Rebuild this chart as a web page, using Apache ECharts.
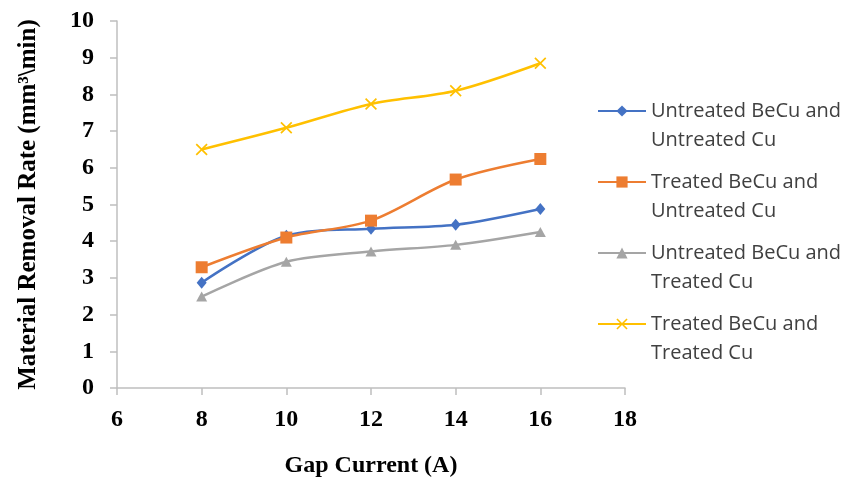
<!DOCTYPE html>
<html>
<head>
<meta charset="utf-8">
<script src="https://cdn.jsdelivr.net/npm/echarts@6/dist/echarts.min.js"></script>
<style>
  html, body { margin: 0; padding: 0; background: #fff; }
  #chart { width: 845px; height: 484px; }
</style>
</head>
<body>
<div id="chart"></div>
<script>
// Gap current (A) on the x axis
const gapCurrent = [8, 10, 12, 14, 16];

// Material removal rate (mm³/min) per electrode pairing
const untreatedBeCuUntreatedCu = [2.87, 4.15, 4.34, 4.45, 4.88];
const treatedBeCuUntreatedCu   = [3.29, 4.10, 4.56, 5.68, 6.24];
const untreatedBeCuTreatedCu   = [2.49, 3.44, 3.72, 3.90, 4.25];
const treatedBeCuTreatedCu     = [6.50, 7.09, 7.74, 8.10, 8.85];

const seriesNames = [
  'Untreated BeCu and\nUntreated Cu',
  'Treated BeCu and\nUntreated Cu',
  'Untreated BeCu and\nTreated Cu',
  'Treated BeCu and\nTreated Cu'
];

const xAxisTitle = 'Gap Current (A)';
const yAxisTitle = 'Material Removal Rate (mm³\\min)';

const colors = ['#4472C4', '#ED7D31', '#A5A5A5', '#FFC000'];
const crossSymbol = 'path://M0,1L1,0L5,4L9,0L10,1L6,5L10,9L9,10L5,6L1,10L0,9L4,5Z';
const symbols = ['diamond', 'rect', 'triangle', crossSymbol];
const symbolSizes = [[10, 12], 12, [11, 10], 12];
const valueSets = [untreatedBeCuUntreatedCu, treatedBeCuUntreatedCu, untreatedBeCuTreatedCu, treatedBeCuTreatedCu];

const serifBold = { fontFamily: 'Liberation Serif', fontWeight: 'bold', color: '#000' };
const axisGray = '#BFBFBF';

// centre line of each legend entry's first text row
const legendRows = [111, 182, 253, 324];
const legendLineHeight = 29;

const chart = echarts.init(document.getElementById('chart'), null, { renderer: 'canvas' });

chart.setOption({
  animation: false,
  backgroundColor: '#fff',
  grid: { left: 117, right: 220, top: 21, bottom: 96, containLabel: false },
  // one legend block per entry; a blank leading row keeps the marker level with the first text row
  legend: seriesNames.map((name, i) => ({
    data: [name],
    orient: 'vertical',
    left: 597,
    top: legendRows[i] - legendLineHeight * 1.5,
    padding: 0,
    itemWidth: 48,
    itemHeight: 14,
    itemGap: 0,
    formatter: n => '\n' + n,
    textStyle: {
      fontFamily: 'Open Sans',
      fontSize: 20,
      color: '#404040',
      lineHeight: legendLineHeight
    }
  })),
  xAxis: {
    type: 'value',
    min: 6,
    max: 18,
    interval: 2,
    name: xAxisTitle,
    nameLocation: 'middle',
    nameGap: 66,
    nameTextStyle: Object.assign({ fontSize: 24 }, serifBold),
    axisLine: { lineStyle: { color: axisGray, width: 1.5 } },
    axisTick: { show: true, length: 7, lineStyle: { color: axisGray, width: 1.5 } },
    axisLabel: Object.assign({ fontSize: 24, margin: 20 }, serifBold),
    splitLine: { show: false }
  },
  yAxis: {
    type: 'value',
    min: 0,
    max: 10,
    interval: 1,
    name: yAxisTitle,
    nameLocation: 'middle',
    nameGap: 76,
    nameTextStyle: Object.assign({ fontSize: 25 }, serifBold),
    axisLine: { show: true, lineStyle: { color: axisGray, width: 1.5 } },
    axisTick: { show: true, length: 7, lineStyle: { color: axisGray, width: 1.5 } },
    axisLabel: Object.assign({ fontSize: 24, margin: 23 }, serifBold),
    splitLine: { show: false }
  },
  series: seriesNames.map((name, i) => ({
    name: name,
    type: 'line',
    smooth: 0.3,
    data: gapCurrent.map((x, j) => [x, valueSets[i][j]]),
    symbol: symbols[i],
    symbolSize: symbolSizes[i],
    showAllSymbol: true,
    color: colors[i],
    lineStyle: { color: colors[i], width: 2.5 },
    itemStyle: { color: colors[i] },
    z: [2, 3, 2, 2][i]
  }))
});
</script>
</body>
</html>
